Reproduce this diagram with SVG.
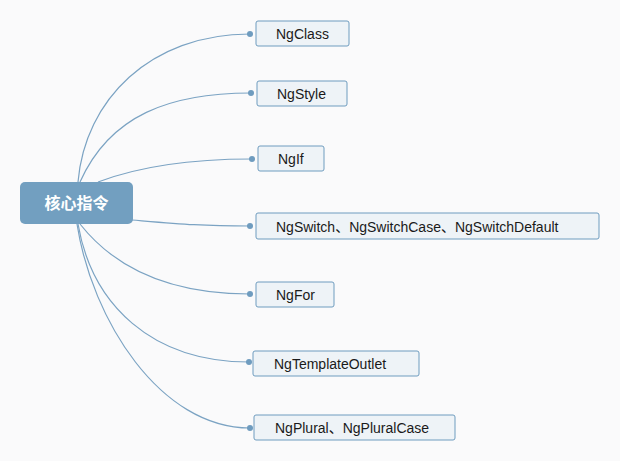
<svg xmlns="http://www.w3.org/2000/svg" width="620" height="461" viewBox="0 0 620 461">
<style>
.bg{fill:#fafafb}
.root rect{fill:#729fc0}
.root text{fill:#ffffff;font-family:"Noto Sans CJK SC","Liberation Sans",sans-serif;font-size:16px;font-weight:bold;text-anchor:middle}
.node rect{fill:#eef3f7;stroke:#6f9cbf;stroke-width:1}
.node text{fill:#1a1a1a;font-family:"Liberation Sans","Noto Sans CJK SC",sans-serif;font-size:14px}
.conn path{fill:none;stroke:#7ba3c3;stroke-width:1.2}
.conn circle{fill:#6f9cbf}
</style>
<rect class="bg" x="0" y="0" width="620" height="461"/>
<g id="connectors" class="conn">
<path d="M78 182 C85 100 150 34 250 34"/>
<path d="M80 182 C110 115 170 93 251 93"/>
<path d="M98 182 C140 166 190 159 252 159"/>
<path d="M132 220 C180 224 200 226 250 226"/>
<path d="M80 224 C110 262 160 294 250 294"/>
<path d="M78 224 C92 305 152 362 249 362"/>
<path d="M77 224 C92 320 160 428 250 428"/>
<circle cx="250" cy="34" r="3"/>
<circle cx="251" cy="93" r="3"/>
<circle cx="252" cy="159" r="3"/>
<circle cx="250" cy="226" r="3"/>
<circle cx="250" cy="294" r="3"/>
<circle cx="249" cy="362" r="3"/>
<circle cx="250" cy="428" r="3"/>
</g>
<g id="root" class="root">
<rect x="20" y="182" width="113" height="42" rx="5"/>
<text x="76.5" y="209">核心指令</text>
</g>
<g id="n-ngclass" class="node">
<rect x="256" y="21" width="93" height="25" rx="2"/>
<text x="276" y="38.5">NgClass</text>
</g>
<g id="n-ngstyle" class="node">
<rect x="257" y="81" width="90" height="25" rx="2"/>
<text x="277" y="98.5">NgStyle</text>
</g>
<g id="n-ngif" class="node">
<rect x="258" y="146" width="66" height="25" rx="2"/>
<text x="278" y="163.5">NgIf</text>
</g>
<g id="n-ngswitch" class="node">
<rect x="256" y="213" width="343" height="26" rx="2"/>
<text x="276" y="231.5">NgSwitch、NgSwitchCase、NgSwitchDefault</text>
</g>
<g id="n-ngfor" class="node">
<rect x="256" y="282" width="78" height="25" rx="2"/>
<text x="276" y="299.5">NgFor</text>
</g>
<g id="n-ngtemplateoutlet" class="node">
<rect x="253" y="351" width="166" height="25" rx="2"/>
<text x="274" y="368.5">NgTemplateOutlet</text>
</g>
<g id="n-ngplural" class="node">
<rect x="254" y="415" width="201" height="25" rx="2"/>
<text x="275" y="433">NgPlural、NgPluralCase</text>
</g>
</svg>
